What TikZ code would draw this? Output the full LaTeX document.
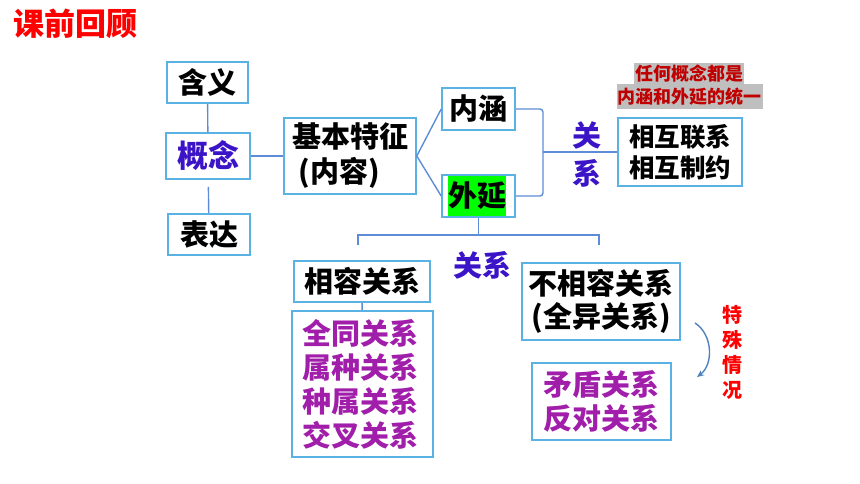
\documentclass[tikz,border=0pt]{standalone}
\usepackage{fontspec}
\setmainfont{Noto Sans CJK SC}[BoldFont={Noto Sans CJK SC Black}]
\usetikzlibrary{positioning, arrows.meta}

\definecolor{boxblue}{RGB}{90,178,228}
\definecolor{linkblue}{RGB}{95,140,215}
\definecolor{relblue}{RGB}{60,20,200}
\definecolor{kindpurple}{RGB}{160,30,170}
\definecolor{notered}{RGB}{192,0,0}
\definecolor{notegray}{RGB}{191,191,191}
\definecolor{arrblue}{RGB}{79,129,189}
\definecolor{hlgreen}{RGB}{0,255,0}

\newcommand{\boxtxt}{\fontsize{29}{35}\selectfont}
\newcommand{\smalltxt}{\fontsize{25.5}{31}\selectfont}

\begin{document}
\begin{tikzpicture}[x=1pt, y=-1pt, font=\bfseries]
                \tikzset{box/.style={draw=boxblue, line width=1.6pt, inner sep=0pt, align=center, font=\bfseries\boxtxt}}
                \tikzset{link/.style={draw=linkblue, line width=1.4pt}}
                \useasboundingbox (0,0) rectangle (860,484);

                % TITLE
                \node[text=red, font=\bfseries\fontsize{31}{36}\selectfont] (title) at (75,24) {课前回顾};

                % CONCEPT BOXES
                \node[box, minimum width=81, minimum height=41] (hanyi) at (207.5,82.5) {含义};
                \node[box, minimum width=84, minimum height=46, text=relblue, font=\bfseries\fontsize{31}{35}\selectfont] (gainian) at (208,156) {概念};
                \node[box, minimum width=82, minimum height=41] (biaoda) at (209,234.5) {表达};
                \node[box, minimum width=132, minimum height=76, align=left] (tezheng) at (350,156) {基本特征\\\ (内容)};
                \node[box, minimum width=73, minimum height=42] (neihan) at (478.5,109) {内涵};
                \node[box, minimum width=73, minimum height=42] (waiyan) at (478.5,196) {};
                \node[fill=hlgreen, inner sep=0pt, minimum width=58, minimum height=40, font=\bfseries\boxtxt] (waiyantxt) at (477,196) {外延};
                \node[box, minimum width=124, minimum height=68, font=\bfseries\smalltxt] (lianxi) at (680,152) {相互联系\\相互制约};

                % NOTE
                \node[fill=notegray, text=notered, inner sep=1pt, minimum height=21, font=\bfseries\fontsize{18}{21}\selectfont] (note1) at (689,73.5) {任何概念都是};
                \node[fill=notegray, text=notered, inner sep=1pt, minimum height=25, font=\bfseries\fontsize{18}{21}\selectfont] (note2) at (689.5,96.5) {内涵和外延的统一};

                % RELATION BOXES
                \node[box, minimum width=141, minimum height=146, align=left, text=kindpurple, font=\bfseries\fontsize{29}{34}\selectfont, text width=121] (kinds) at (362.5,384) {全同关系\\属种关系\\种属关系\\交叉关系};
                \node[box, minimum width=136, minimum height=41] (xiangrong) at (362,281.5) {相容关系};
                \node[box, minimum width=158, minimum height=77, font=\bfseries\fontsize{29}{33}\selectfont] (buxiangrong) at (601,301.5) {不相容关系\\(全异关系)};
                \node[box, minimum width=139, minimum height=77, align=left, text=kindpurple, font=\bfseries\fontsize{29}{34}\selectfont] (maodun) at (601.5,401.5) {矛盾关系\\反对关系};

                % LABELS
                \node[text=relblue, align=center, font=\bfseries\fontsize{29}{38}\selectfont] (guanxi1) at (587,154) {关\\系};
                \node[text=relblue, font=\bfseries\fontsize{29}{30}\selectfont] (guanxi2) at (482,265) {关系};
                \node[text=red, align=center, font=\bfseries\fontsize{20}{25}\selectfont] (teshu) at (732,352.5) {特\\殊\\情\\况};

                % COORDINATES
                \coordinate (brk) at (543,152);
                \coordinate (fork) at (478.5,235);
                \coordinate (forkL) at (358,245);
                \coordinate (forkR) at (599,245);
                \coordinate (arrTop) at (695,323);
                \coordinate (arrBot) at (697,377);

                % LINKS
                \draw[link] (hanyi) -- (gainian);
                \draw[link, shorten <=7pt] (gainian) -- (biaoda);
                \draw[link] (gainian) -- (tezheng);
                \draw[link] (tezheng.east) -- (neihan.west);
                \draw[link] (tezheng.east) -- (waiyan.west);
                \draw[link, rounded corners=3pt] (neihan.east) -| (brk) |- (waiyan.east);
                \draw[link] (brk) -- (lianxi.west);
                \draw[link] (waiyan) -- (fork);
                \draw[link] (forkL) |- (fork) -| (forkR);
                \draw[link] (xiangrong) -- (kinds);
                \draw[arrblue, line width=1.4pt, -{Stealth[length=7pt, width=6pt]}] (arrTop) to[bend left=55] (arrBot);

            \end{tikzpicture}
\end{document}
